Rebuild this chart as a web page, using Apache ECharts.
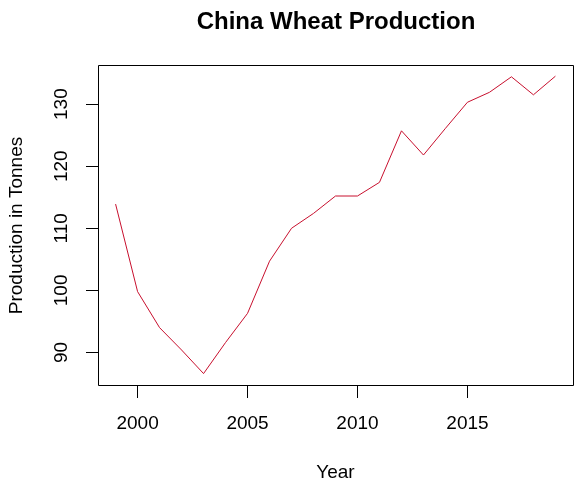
<!DOCTYPE html>
<html>
<head>
<meta charset="utf-8">
<script src="https://cdn.jsdelivr.net/npm/echarts@6/dist/echarts.min.js"></script>
<style>
  html, body { margin: 0; padding: 0; background: #fff; }
  #chart { width: 585px; height: 488px; }
</style>
</head>
<body>
<div id="chart"></div>
<script>
// values (million tonnes)
var years = [1999, 2000, 2001, 2002, 2003, 2004, 2005, 2006, 2007, 2008,
             2009, 2010, 2011, 2012, 2013, 2014, 2015, 2016, 2017, 2018, 2019];
var production = [113.9, 99.8, 94.0, 90.4, 86.6, 91.6, 96.3, 104.7, 110.0, 112.4,
                  115.2, 115.2, 117.4, 125.7, 121.8, 126.1, 130.3, 131.9, 134.4, 131.5, 134.5];
var xTicks = [2000, 2005, 2010, 2015];
var yTicks = [90, 100, 110, 120, 130];

var font = 'Liberation Sans, Arial, sans-serif';
var chart = echarts.init(document.getElementById('chart'));

var option = {
    backgroundColor: '#fff',
    animation: false,
    title: {
        text: 'China Wheat Production',
        left: 331, top: 5, textAlign: 'center',
        textStyle: { fontFamily: font, fontSize: 24, fontWeight: 'bold', color: '#000' }
    },
    grid: { left: 98, right: 12, top: 65, bottom: 102, outerBoundsMode: 'none', containLabel: false },
    xAxis: {
        type: 'value',
        min: 1998.2, max: 2019.8,
        name: 'Year',
        nameLocation: 'middle',
        nameGap: 77,
        nameTextStyle: { fontFamily: font, fontSize: 19, color: '#000' },
        axisLine: { show: false, onZero: false },
        axisTick: { show: true, inside: false, length: 12, lineStyle: { color: '#000' },
            customValues: xTicks },
        axisLabel: { fontFamily: font, fontSize: 19, color: '#000', margin: 28,
            customValues: xTicks, formatter: function (v) { return v; } },
        splitLine: { show: false }
    },
    yAxis: {
        type: 'value',
        min: 84.6, max: 136.3,
        name: 'Production in Tonnes',
        nameLocation: 'middle',
        nameGap: 72,
        nameTextStyle: { fontFamily: font, fontSize: 19, color: '#000' },
        axisLine: { show: false, onZero: false },
        axisTick: { show: true, inside: false, length: 12, lineStyle: { color: '#000' },
            customValues: yTicks },
        axisLabel: { fontFamily: font, fontSize: 19, color: '#000', rotate: 90, margin: 27,
            customValues: yTicks },
        splitLine: { show: false }
    },
    // R style box round the plot area
    graphic: [{
        type: 'rect',
        shape: { x: 98.5, y: 65.5, width: 475, height: 320 },
        style: { fill: 'none', stroke: '#000', lineWidth: 1 },
        silent: true
    }],
    series: [{
        type: 'line',
        data: years.map(function (y, i) { return [y, production[i]]; }),
        showSymbol: false,
        lineStyle: { color: '#c8102e', width: 1 },
        itemStyle: { color: '#c8102e' }
    }]
};
chart.setOption(option);
</script>
</body>
</html>
